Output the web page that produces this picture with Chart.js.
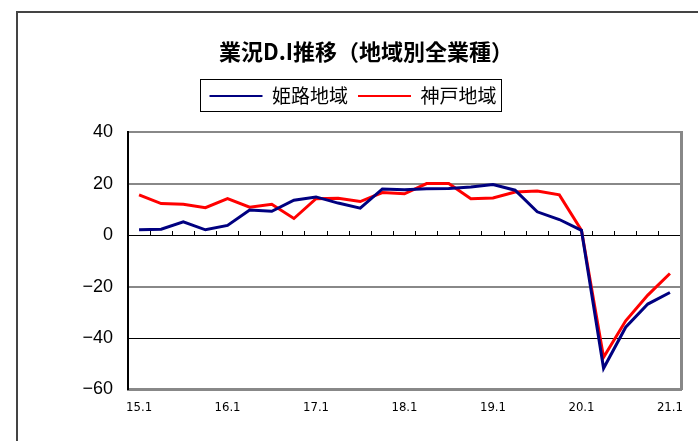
<!DOCTYPE html>
<html>
<head>
<meta charset="utf-8">
<script src="https://cdn.jsdelivr.net/npm/chart.js@4"></script>
<style>
  html, body { margin: 0; padding: 0; background: #fff; overflow: hidden; }
  #wrap { position: relative; width: 698px; height: 441px; }
  #frame { position: absolute; left: 16px; top: 11px; width: 700px; height: 460px;
           border-left: 2px solid #444; border-top: 2px solid #444; }
  canvas { position: absolute; left: 0; top: 0; }
</style>
</head>
<body>
<div id="wrap">
  <div id="frame"></div>
  <canvas id="myChart" width="698" height="441"></canvas>
</div>
<script>
// quarters 15.1 ... 21.1
const categories = [
  '15.1','15.4','15.7','15.10','16.1','16.4','16.7','16.10',
  '17.1','17.4','17.7','17.10','18.1','18.4','18.7','18.10',
  '19.1','19.4','19.7','19.10','20.1','20.4','20.7','20.10','21.1'
];
const himeji = [2.1, 2.3, 5.2, 2.1, 3.8, 9.8, 9.3, 13.6, 14.9, 12.5, 10.5, 18.0, 17.7,
                18.1, 18.2, 18.8, 19.7, 17.5, 9.1, 6.1, 1.9, -51.8, -35.8, -26.8, -22.3];
const kobe = [15.7, 12.3, 12.0, 10.7, 14.2, 10.9, 12.0, 6.5, 14.2, 14.4, 13.1, 16.6, 16.1,
              20.1, 20.1, 14.2, 14.5, 16.8, 17.2, 15.7, 1.9, -47.5, -33.3, -23.3, -14.9];
const yTicks = [40, 20, 0, -20, -40, -60];

// extra room under the legend
const legendGap = {
  id: 'legendGap',
  beforeInit(chart) {
    const fit = chart.legend.fit;
    chart.legend.fit = function () {
      fit.bind(chart.legend)();
      this.height += 17;
    };
  },
  // title sits a bit right of the legend in the original
  afterLayout(chart) {
    chart.titleBlock.left += 13;
    chart.titleBlock.right += 13;
  }
};

// box round the legend
const legendBox = {
  id: 'legendBox',
  afterDraw(chart) {
    const boxes = chart.legend.legendHitBoxes;
    if (!boxes || !boxes.length) return;
    const ctx = chart.ctx;
    const left = Math.min(...boxes.map(b => b.left)) - 9;
    const right = Math.max(...boxes.map(b => b.left + b.width)) + 5;
    const top = boxes[0].top - 7;
    const bottom = boxes[0].top + boxes[0].height + 6;
    ctx.save();
    ctx.strokeStyle = '#000';
    ctx.lineWidth = 1;
    ctx.strokeRect(Math.round(left) + 0.5, Math.round(top) + 0.5, Math.round(right - left), Math.round(bottom - top));
    ctx.restore();
  }
};

const ctx = document.getElementById('myChart').getContext('2d');
const myChart = new Chart(ctx, {
  type: 'line',
  data: {
    labels: categories,
    datasets: [
      {
        label: '姫路地域',
        data: himeji,
        borderColor: '#000080',
        backgroundColor: '#000080',
        borderWidth: 3,
        pointRadius: 0,
        fill: false
      },
      {
        label: '神戸地域',
        data: kobe,
        borderColor: '#ff0000',
        backgroundColor: '#ff0000',
        borderWidth: 3,
        pointRadius: 0,
        fill: false
      }
    ]
  },
  options: {
    responsive: false,
    animation: false,
    layout: { padding: { left: 25, right: 17, top: 0, bottom: 16 } },
    plugins: {
      title: {
        display: true,
        text: '業況D.I推移（地域別全業種）',
        color: '#000',
        font: { family: '"Noto Sans CJK JP", sans-serif', size: 22, weight: 'bold' },
        padding: { top: 38, bottom: 12 }
      },
      legend: {
        display: true,
        labels: {
          color: '#000',
          font: { family: '"Noto Sans CJK JP", sans-serif', size: 19 },
          usePointStyle: true,
          pointStyle: 'line',
          pointStyleWidth: 53,
          padding: 10,
          generateLabels(chart) {
            const items = Chart.defaults.plugins.legend.labels.generateLabels(chart);
            items.forEach(it => { it.lineWidth = 2; it.pointStyle = 'line'; });
            return items;
          }
        }
      },
      tooltip: { enabled: false }
    },
    scales: {
      x: {
        type: 'category',
        offset: true,
        grid: { display: false, drawTicks: false },
        border: { display: true, color: '#888', width: 3 },
        ticks: {
          autoSkip: false,
          maxRotation: 0,
          padding: 10,
          color: '#000',
          font: { family: '"Liberation Sans Narrow", "DejaVu Sans Condensed", sans-serif', size: 13 },
          callback: function (value, index) {
            return index % 4 === 0 ? categories[index] : '';
          }
        }
      },
      x2: {
        type: 'category',
        position: { y: 0 },
        offset: true,
        grid: { display: true, offset: true, drawOnChartArea: false, drawTicks: true, tickLength: -4, color: '#000', lineWidth: 1 },
        border: { display: false },
        ticks: { display: false, autoSkip: false }
      },
      y: {
        min: -60,
        max: 40,
        afterBuildTicks: (axis) => { axis.ticks = yTicks.map(v => ({ value: v })); },
        afterFit: (axis) => { axis.width = 103; },
        grid: {
          drawTicks: false,
          color: (c) => (c.tick && (c.tick.value === 0 || c.tick.value === -40)) ? '#000' : '#888',
          lineWidth: (c) => {
            if (!c.tick) return 1;
            if (c.tick.value === 0 || c.tick.value === -40) return 1;
            return 2;
          }
        },
        border: { display: true, color: '#000', width: 2 },
        ticks: {
          padding: 15,
          color: '#000',
          font: { family: '"Liberation Sans", Arial, sans-serif', size: 18 },
          callback: (v) => v < 0 ? '\u2212' + Math.abs(v) : String(v)
        }
      },
      y2: {
        position: 'right',
        min: -60,
        max: 40,
        grid: { drawOnChartArea: false, drawTicks: false },
        border: { display: true, color: '#888', width: 3 },
        ticks: { display: false }
      }
    }
  },
  plugins: [legendGap, legendBox]
});
</script>
</body>
</html>
